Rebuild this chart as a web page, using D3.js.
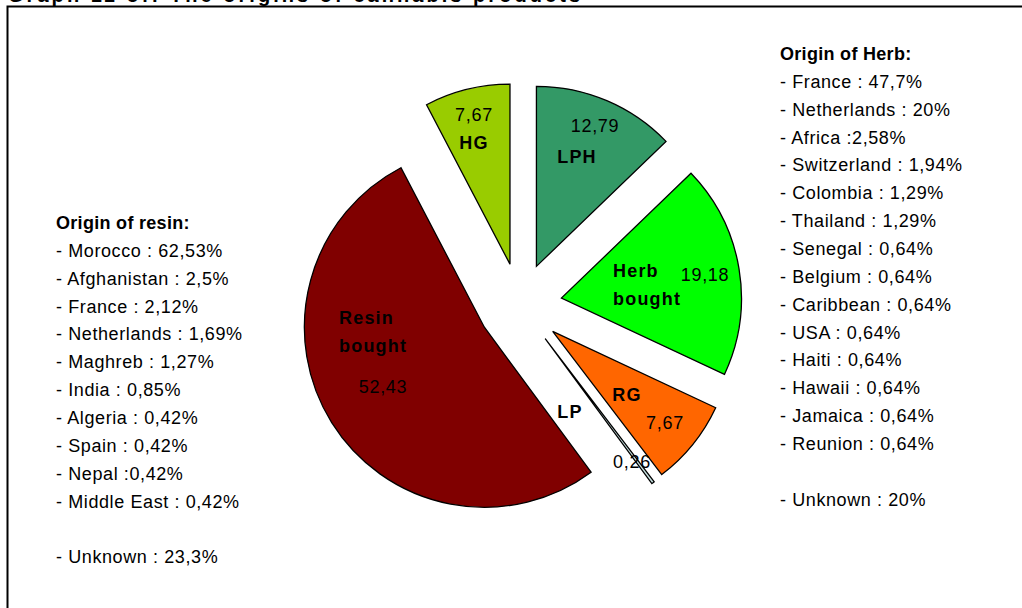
<!DOCTYPE html>
<html>
  <head>
    <script src="https://d3js.org/d3.v7.min.js"></script>
    <style>
      body { margin: 0; background: #fff; }
      text { font-family: "Liberation Sans", Arial, sans-serif; }
    </style>
  </head>
  <body>
    <svg id="origins" width="1022" height="608"></svg>
    <script>
    // slices, clockwise from 12 o'clock
    var sliceNames = ["LPH", "Herb bought", "RG", "LP", "Resin bought", "HG"];
    var sliceValues = [12.79, 19.18, 7.67, 0.26, 52.43, 7.67];
    var sliceValueLabels = ["12,79", "19,18", "7,67", "0,26", "52,43", "7,67"];
    var sliceColours = ["#339966", "#00ff00", "#ff6600", "#c4dede", "#800000", "#99cc00"];

    var resinTitle = "Origin of resin:";
    var resinOrigins = ["- Morocco : 62,53%", "- Afghanistan : 2,5%", "- France : 2,12%",
      "- Netherlands : 1,69%", "- Maghreb : 1,27%", "- India : 0,85%", "- Algeria : 0,42%",
      "- Spain : 0,42%", "- Nepal :0,42%", "- Middle East : 0,42%", "", "- Unknown : 23,3%"];

    var herbTitle = "Origin of Herb:";
    var herbOrigins = ["- France : 47,7%", "- Netherlands : 20%", "- Africa :2,58%",
      "- Switzerland : 1,94%", "- Colombia : 1,29%", "- Thailand : 1,29%", "- Senegal : 0,64%",
      "- Belgium : 0,64%", "- Caribbean : 0,64%", "- USA : 0,64%", "- Haiti : 0,64%",
      "- Hawaii : 0,64%", "- Jamaica : 0,64%", "- Reunion : 0,64%", "", "- Unknown : 20%"];

    var svg = d3.select("#origins");

    // title, mostly cut off by the top of the picture (as in the original)
    svg.append("text")
      .attr("x", 8).attr("y", 1.5)
      .attr("textLength", 572)
      .style("font-size", "20px").style("font-weight", "bold")
      .text("Graph 11 of: The origins of cannabis products");

    // frame (only top and left show)
    svg.append("path")
      .attr("d", "M7.5,608V6.5H1022")
      .attr("fill", "none").attr("stroke", "#000").attr("stroke-width", 2);

    var cx = 520, cy = 305, radius = 180, explode = 42;

    var pie = d3.pie().sort(null).value(function(d){ return d; });
    var arc = d3.arc().innerRadius(0).outerRadius(radius);
    var arcs = pie(sliceValues);

    function offset(d){
      var a = (d.startAngle + d.endAngle) / 2;
      return [Math.sin(a) * explode, -Math.cos(a) * explode];
    }

    var g = svg.append("g").attr("transform", "translate(" + cx + "," + cy + ")");
    g.selectAll("path.slice")
      .data(arcs)
      .enter().append("path")
      .attr("class", "slice")
      .attr("transform", function(d){ return "translate(" + offset(d) + ")"; })
      .attr("d", arc)
      .attr("fill", function(d, i){ return sliceColours[i]; })
      .attr("stroke", "#000")
      .attr("stroke-width", 1.3)
      .attr("stroke-linejoin", "miter");

    // label positions relative to the pie centre (name lines, value)
    var namePos = [[57, -142], [93, -28], [107, 96], [50, 113], [-181, 19], [-46, -156]];
    var nameAnchor = ["middle", "start", "middle", "middle", "start", "middle"];
    var valuePos = [[75, -173], [185, -24], [145, 124], [112, 163], [-137, 88], [-46, -184]];

    var labels = g.append("g");
    arcs.forEach(function(d, i){
      var words = sliceNames[i].split(" ");
      var t = labels.append("text")
        .attr("x", namePos[i][0]).attr("y", namePos[i][1])
        .attr("text-anchor", nameAnchor[i])
        .style("font-size", "18px").style("font-weight", "bold")
        .style("letter-spacing", "1.2px");
      words.forEach(function(w, k){
        t.append("tspan").attr("x", namePos[i][0]).attr("dy", k ? 28 : 0).text(w);
      });
      labels.append("text")
        .attr("x", valuePos[i][0]).attr("y", valuePos[i][1])
        .attr("text-anchor", "middle")
        .style("font-size", "18px")
        .style("letter-spacing", "0.7px")
        .text(sliceValueLabels[i]);
    });

    function legend(x, y, title, lines){
      var lg = svg.append("g").attr("transform", "translate(" + x + "," + y + ")");
      lg.append("text").attr("y", 0)
        .style("font-size", "18px").style("font-weight", "bold")
        .style("letter-spacing", "0.3px")
        .text(title);
      lg.selectAll("text.item")
        .data(lines)
        .enter().append("text")
        .attr("class", "item")
        .attr("y", function(d, i){ return (i + 1) * 27.85; })
        .style("font-size", "18px")
        .style("letter-spacing", "0.6px")
        .text(function(d){ return d; });
    }

    legend(56, 229, resinTitle, resinOrigins);
    legend(780, 60, herbTitle, herbOrigins);
    </script>
  </body>
</html>
